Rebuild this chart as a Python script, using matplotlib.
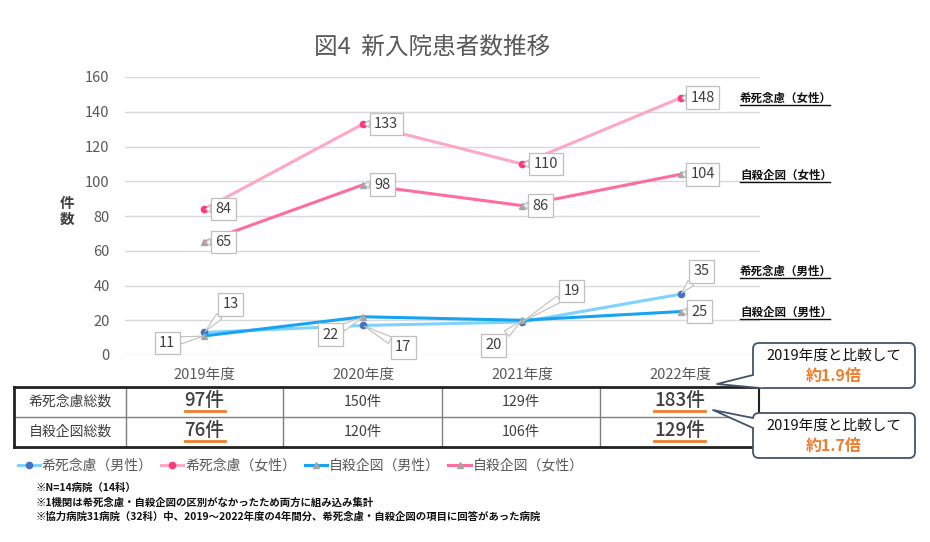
import matplotlib
matplotlib.use("Agg")
import matplotlib.pyplot as plt
from matplotlib.patches import FancyBboxPatch, Polygon
from matplotlib.lines import Line2D

plt.rcParams['font.family'] = ['Noto Sans CJK JP', 'DejaVu Sans']

# ---------------- data ----------------
years = ["2019年度", "2020年度", "2021年度", "2022年度"]
kishi_m = [13, 17, 19, 35]      # 希死念慮（男性）
kishi_f = [84, 133, 110, 148]   # 希死念慮（女性）
jisatsu_m = [11, 22, 20, 25]    # 自殺企図（男性）
jisatsu_f = [65, 98, 86, 104]   # 自殺企図（女性）
series_names = ["希死念慮（男性）", "希死念慮（女性）", "自殺企図（男性）", "自殺企図（女性）"]
kishi_total = [97, 150, 129, 183]
jisatsu_total = [76, 120, 106, 129]
row_names = ["希死念慮総数", "自殺企図総数"]
y_ticks = [0, 20, 40, 60, 80, 100, 120, 140, 160]
notes = ["※N=14病院（14科）",
         "※1機関は希死念慮・自殺企図の区別がなかったため両方に組み込み集計",
         "※協力病院31病院（32科）中、2019～2022年度の4年間分、希死念慮・自殺企図の項目に回答があった病院"]
title = "図4  新入院患者数推移"

# ---------------- style ----------------
W, H = 930, 542
fig = plt.figure(figsize=(W / 100, H / 100), dpi=100)

def fx(px):
    return px / W

def fy(py):
    return 1 - py / H

ax = fig.add_axes([fx(125), fy(355), fx(635), 278 / H])
x = list(range(len(years)))

styles = [
    dict(color="#7DD3FB", marker="o", mfc="#4472C4", mec="#4472C4", ms=4.5),
    dict(color="#FFA7C6", marker="o", mfc="#FF3B7A", mec="#FF3B7A", ms=4.5),
    dict(color="#18A3F0", marker="^", mfc="#A5A5A5", mec="#A5A5A5", ms=5),
    dict(color="#FF6C9E", marker="^", mfc="#A5A5A5", mec="#A5A5A5", ms=5),
]
all_series = [kishi_m, kishi_f, jisatsu_m, jisatsu_f]
order = [1, 3, 0, 2]
lines = [None] * 4
for i in order:
    st = styles[i]
    (ln,) = ax.plot(x, all_series[i], color=st["color"], lw=2.2, marker=st["marker"],
                    mfc=st["mfc"], mec=st["mec"], ms=st["ms"], label=series_names[i],
                    zorder=3 + i * 0.1)
    lines[i] = ln

ax.set_xlim(-0.5, 3.5)
ax.set_ylim(0, 160)
ax.set_yticks(y_ticks)
ax.set_xticks(x)
ax.set_xticklabels(years)
ax.tick_params(axis="both", length=0, labelsize=10.5, labelcolor="#595959")
ax.tick_params(axis="y", pad=11)
ax.tick_params(axis="x", pad=9)
ax.grid(axis="y", color="#D9D9D9", lw=1)
ax.set_axisbelow(True)
for s in ax.spines.values():
    s.set_visible(False)

# data labels (pixel offsets from the point)
label_offsets = [
    [(26, 28), (40, -22), (50, 31), (21, 23)],
    [(19, 0), (23, 0), (24, 0), (22, 0)],
    [(-37, -7), (-33, -18), (-28, -25), (19, 0)],
    [(19, 0), (19, 0), (19, 0), (22, 0)],
]
for i, ser in enumerate(all_series):
    for j, v in enumerate(ser):
        dx, dy = label_offsets[i][j]
        ax.annotate(str(v), xy=(j, v), xytext=(dx, dy), textcoords="offset pixels",
                    ha="center", va="center", fontsize=10.5, color="#404040",
                    bbox=dict(boxstyle="square,pad=0.3", fc="white", ec="#BFBFBF", lw=0.9),
                    arrowprops=dict(arrowstyle="wedge,tail_width=0.5,shrink_factor=0.5",
                                    fc="white", ec="#BFBFBF", lw=0.8,
                                    shrinkA=0, shrinkB=1),
                    zorder=6)

# title & y label
fig.text(fx(432), fy(47), title, ha="center", va="center", fontsize=17, color="#595959")
fig.text(fx(67), fy(211), "件\n数", ha="center", va="center", fontsize=10.5,
         color="#404040", linespacing=1.05, fontweight="bold")

# overlay for annotations in pixel coordinates
ov = fig.add_axes([0, 0, 1, 1], zorder=10)
ov.set_xlim(0, W)
ov.set_ylim(H, 0)
ov.axis("off")
ov.patch.set_alpha(0)

# right-side series names (underlined)
right_labels = [(series_names[1], 98), (series_names[3], 175), (series_names[0], 271), (series_names[2], 312)]
right_texts = []
for name, yy in right_labels:
    t = ov.text(740, yy, name, ha="left", va="center", fontsize=8.3, fontweight="bold", color="#111111")
    right_texts.append(t)

# table
cols = [14, 126, 283, 442, 600, 759]
ytop, ymid, ybot = 386.5, 417, 447
for xc in cols[1:-1]:
    ov.plot([xc, xc], [ytop, ybot], color="#7F7F7F", lw=1)
ov.plot([cols[0], cols[-1]], [ymid, ymid], color="#7F7F7F", lw=1)
ov.plot([cols[0], cols[-1]], [ytop, ytop], color="#222222", lw=2)
ov.plot([cols[0], cols[-1]], [ybot, ybot], color="#222222", lw=2)
ov.plot([cols[0], cols[0]], [ytop, ybot], color="#222222", lw=2)
ov.plot([cols[-1], cols[-1]], [ytop, ybot], color="#222222", lw=1.5)

highlight = [0, 3]
row_y = [(ytop + ymid) / 2, (ymid + ybot) / 2]
underline_targets = []
for r, (name, vals) in enumerate(zip(row_names, [kishi_total, jisatsu_total])):
    ov.text((cols[0] + cols[1]) / 2, row_y[r], name, ha="center", va="center",
            fontsize=10, color="#404040")
    for j, v in enumerate(vals):
        cx = (cols[j + 1] + cols[j + 2]) / 2
        if j in highlight:
            t = ov.text(cx, row_y[r] - 1, f"{v}件", ha="center", va="center",
                        fontsize=13.5, color="#404040", fontweight="medium")
            underline_targets.append((t, row_y[r] + 9))
        else:
            ov.text(cx, row_y[r], f"{v}件", ha="center", va="center",
                    fontsize=10.3, color="#404040")

# callouts
ratio1 = round(kishi_total[3] / kishi_total[0], 1)
ratio2 = round(jisatsu_total[3] / jisatsu_total[0], 1)
callouts = [
    dict(box=(753, 343, 915, 388), tip=(717, 384), base=((753, 375), (760, 388)), ratio=ratio1),
    dict(box=(753, 413, 915, 458), tip=(713, 410), base=((753, 418), (753, 428)), ratio=ratio2),
]
for c in callouts:
    x0, y0, x1, y1 = c["box"]
    ov.add_patch(FancyBboxPatch((x0, y0), x1 - x0, y1 - y0,
                                boxstyle="round,pad=0,rounding_size=6",
                                fc="white", ec="#44546A", lw=1.3, zorder=11))
    b1, b2 = c["base"]
    tip = c["tip"]
    ov.add_patch(Polygon([b1, tip, b2, (b2[0] + 3, b2[1] - 1), (b1[0] + 3, b1[1])],
                         closed=True, fc="white", ec="none", zorder=12))
    ov.add_line(Line2D([b1[0], tip[0], b2[0]], [b1[1], tip[1], b2[1]],
                       color="#44546A", lw=1.3, zorder=13))
    ov.text((x0 + x1) / 2, y0 + 13, "2019年度と比較して", ha="center", va="center",
            fontsize=10.5, color="#111111", zorder=14)
    ov.text((x0 + x1) / 2, y0 + 33, f"約{c['ratio']}倍", ha="center", va="center",
            fontsize=11.5, color="#ED7D31", fontweight="bold", zorder=14)

# legend
fig.legend(handles=lines, labels=series_names, loc="center left",
           bbox_to_anchor=(fx(12), fy(466)), ncol=4, frameon=False, fontsize=10,
           labelcolor="#595959", handlelength=1.6, handletextpad=0.15,
           columnspacing=0.6, borderaxespad=0)

# notes
for k, n in enumerate(notes):
    fig.text(fx(35), fy(488 + 14.5 * k), n, ha="left", va="center", fontsize=7.5,
             fontweight="bold", color="#111111")

# underlines (computed from rendered text extents)
fig.canvas.draw()
renderer = fig.canvas.get_renderer()
inv = ov.transData.inverted()
for t in right_texts:
    bb = t.get_window_extent(renderer)
    (a, _), (b, _) = inv.transform([(bb.x0, bb.y0), (bb.x1, bb.y0)])
    yy = t.get_position()[1] + 7
    ov.plot([a, b - 2], [yy, yy], color="#111111", lw=1)
for t, yy in underline_targets:
    bb = t.get_window_extent(renderer)
    (a, _), (b, _) = inv.transform([(bb.x0, bb.y0), (bb.x1, bb.y0)])
    ov.plot([a, b], [yy, yy], color="#ED7D31", lw=2)

fig.savefig("out.png", dpi=100)
